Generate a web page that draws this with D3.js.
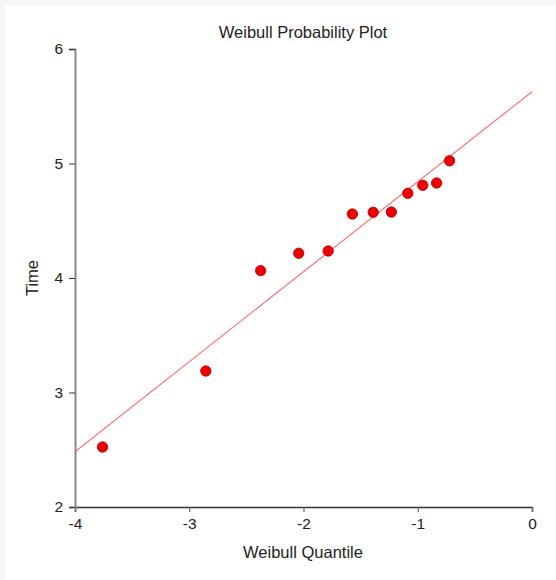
<!DOCTYPE html>
<html>
<head>
<meta charset="utf-8">
<script src="https://cdn.jsdelivr.net/npm/d3@7"></script>
<style>
  html, body { margin: 0; padding: 0; background: #f6f6f6; }
  svg { display: block; font-family: "Liberation Sans", Arial, sans-serif; }
</style>
</head>
<body>
<svg id="chart" width="556" height="580"></svg>
<script>
// Weibull probability plot: quantiles of the ordered failures vs. log time
const quantiles = [-3.759, -2.855, -2.375, -2.042, -1.784, -1.572, -1.390, -1.231, -1.087, -0.956, -0.835, -0.722];
const times     = [2.524, 3.188, 4.064, 4.216, 4.236, 4.559, 4.574, 4.576, 4.740, 4.810, 4.830, 5.024];
// fitted line: value at quantile -4 and at quantile 0
const fitEnds   = [{ q: -4, t: 2.483 }, { q: 0, t: 5.627 }];
const xTicks = [-4, -3, -2, -1, 0];
const yTicks = [2, 3, 4, 5, 6];

const svg = d3.select("#chart");
svg.append("rect").attr("x", 5).attr("y", 5).attr("width", 551).attr("height", 575).attr("fill", "#fff");

const x = d3.scaleLinear().domain([-4, 0]).range([75, 532]);
const y = d3.scaleLinear().domain([2, 6]).range([507, 49]);

// clip region for the fitted line
svg.append("clipPath").attr("id", "plotClip")
  .append("rect").attr("x", x(-4)).attr("y", y(6)).attr("width", x(0) - x(-4)).attr("height", y(2) - y(6));

svg.append("path")
  .datum(fitEnds)
  .attr("clip-path", "url(#plotClip)")
  .attr("fill", "none")
  .attr("stroke", "#ff6b6b")
  .attr("stroke-width", 1.1)
  .attr("d", d3.line().x(d => x(d.q)).y(d => y(d.t)));

// axes
const xAxis = svg.append("g").attr("transform", `translate(0,${y(2)})`)
  .call(d3.axisBottom(x).tickValues(xTicks).tickFormat(d3.format("d")).tickSizeOuter(0).tickSize(5));
xAxis.select(".domain").attr("stroke", "#333").attr("stroke-width", 1.5);
xAxis.selectAll(".tick line").attr("stroke", "#666").attr("stroke-width", 1.2);
xAxis.selectAll("text").attr("font-size", 15.5).attr("fill", "#222").attr("dy", "1em").attr("y", 6)
  .text(d => d < 0 ? "-" + Math.abs(d) : d);

const yAxis = svg.append("g").attr("transform", `translate(${x(-4)},0)`)
  .call(d3.axisLeft(y).tickValues(yTicks).tickFormat(d3.format("d")).tickSizeOuter(0).tickSize(6));
yAxis.select(".domain").attr("stroke", "#888").attr("stroke-width", 2);
yAxis.selectAll(".tick line").attr("stroke", "#333").attr("stroke-width", 1);
yAxis.selectAll("text").attr("font-size", 15.5).attr("fill", "#222").attr("x", -12);

// points
svg.append("g").selectAll("circle")
  .data(quantiles.map((q, i) => ({ q, t: times[i] })))
  .join("circle")
  .attr("cx", d => x(d.q))
  .attr("cy", d => y(d.t))
  .attr("r", 5.2)
  .attr("fill", "#ee0000")
  .attr("stroke", "#b00000")
  .attr("stroke-width", 0.8);

// titles
svg.append("text").attr("x", 303).attr("y", 38).attr("text-anchor", "middle")
  .attr("font-size", 16.5).attr("fill", "#222").text("Weibull Probability Plot");
svg.append("text").attr("x", 303).attr("y", 558).attr("text-anchor", "middle")
  .attr("font-size", 16.5).attr("fill", "#222").text("Weibull Quantile");
svg.append("text").attr("transform", `translate(38,${(y(2) + y(6)) / 2}) rotate(-90)`)
  .attr("text-anchor", "middle").attr("font-size", 16.5).attr("fill", "#222").text("Time");
</script>
</body>
</html>
